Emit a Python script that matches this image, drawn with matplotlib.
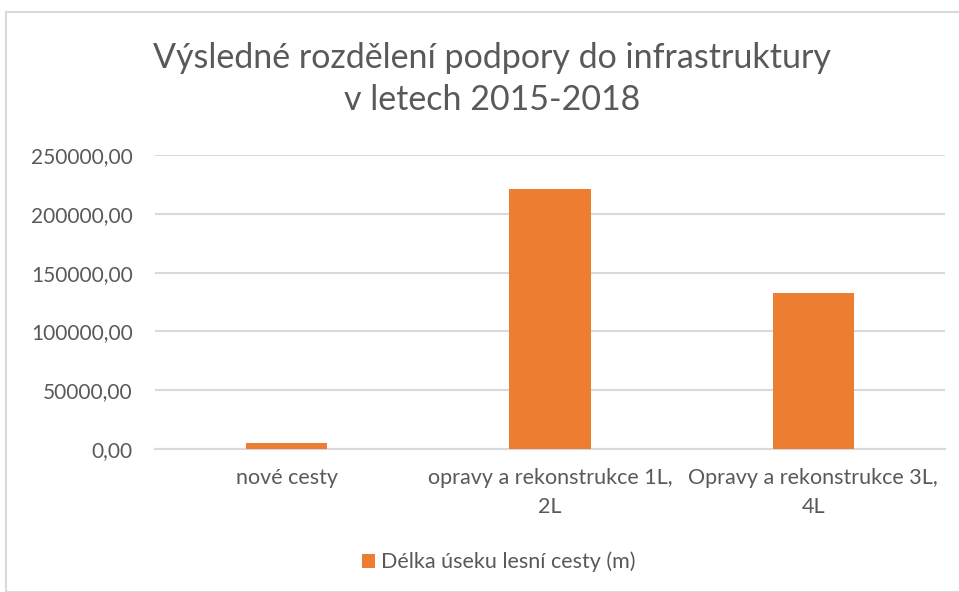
import numpy as np
import matplotlib.pyplot as plt
from matplotlib.patches import Rectangle
from matplotlib.ticker import FuncFormatter

plt.rcParams['font.family'] = ['Lato', 'DejaVu Sans']

categories = ['nové cesty', 'opravy a rekonstrukce 1L,\n2L', 'Opravy a rekonstrukce 3L,\n4L']
values = [4900, 220800, 132700]
series_name = 'Délka úseku lesní cesty (m)'
yticks = [0, 50000, 100000, 150000, 200000, 250000]

grey = '#595959'
orange = '#ED7D31'

fig = plt.figure(figsize=(9.59, 5.92), dpi=100)
fig.patches.append(Rectangle((6/959, 0), 1.0, 1 - 12/592, transform=fig.transFigure,
                             facecolor='none', edgecolor='#D9D9D9', linewidth=1.5))

ax = fig.add_axes([155/959, 1 - 449/592, 790/959, 294/592])
x = np.arange(len(categories))
ax.bar(x, values, width=0.31, color=orange, label=series_name, zorder=3)

ax.set_xlim(-0.5, len(categories) - 0.5)
ax.set_ylim(0, 250000)
ax.set_yticks(yticks)
ax.yaxis.set_major_formatter(FuncFormatter(lambda v, p: f"{v:.2f}".replace('.', ',')))
ax.set_xticks(x)
ax.set_xticklabels(categories, fontsize=15.5, color=grey, linespacing=1.55)
ax.tick_params(axis='y', labelsize=15, labelcolor=grey, length=0, pad=16)
ax.tick_params(axis='x', length=0, pad=14)
ax.grid(axis='y', color='#D9D9D9', linewidth=1.5, zorder=0)
for s in ['top', 'right', 'left']:
    ax.spines[s].set_visible(False)
ax.spines['bottom'].set_color('#D9D9D9')
ax.spines['bottom'].set_linewidth(1.5)

fig.text(492/959, 1 - 79/592, 'Výsledné rozdělení podpory do infrastruktury\nv letech 2015-2018',
         ha='center', va='center', fontsize=24.5, color=grey, linespacing=1.4)

fig.legend(loc='center', bbox_to_anchor=(499/959, 1 - 562/592), frameon=False,
           fontsize=15.5, labelcolor=grey, handlelength=0.6, handleheight=0.6, handletextpad=0.3)

fig.savefig('out.png', dpi=100)
